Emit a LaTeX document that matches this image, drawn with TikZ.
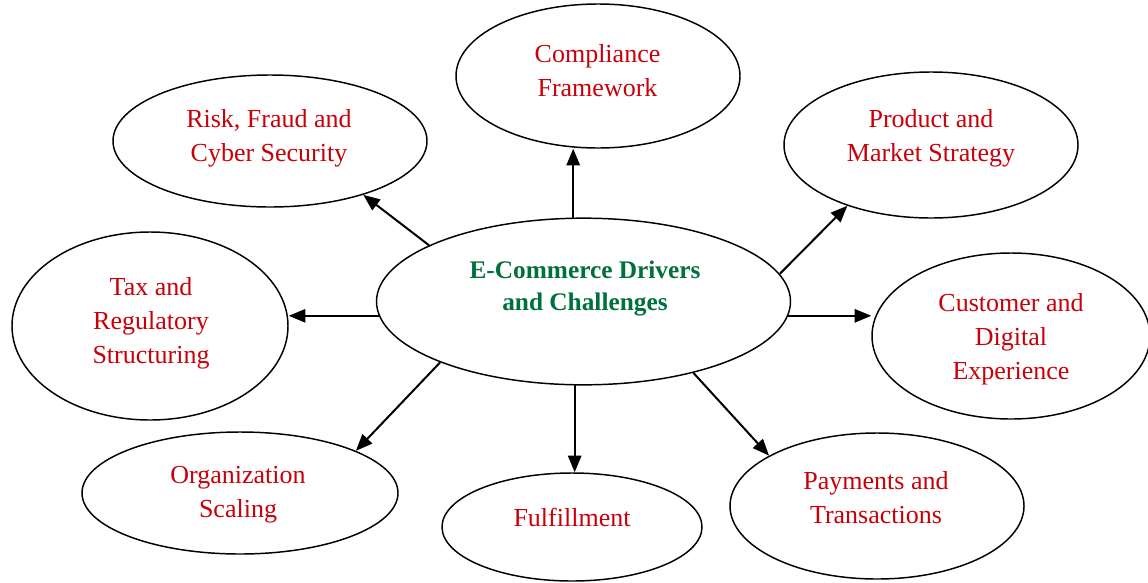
\documentclass[tikz,border=0pt]{standalone}
\usepackage{fontspec}
\setmainfont{Liberation Serif}
\usetikzlibrary{shapes.geometric,arrows.meta}
\definecolor{lblred}{RGB}{200,0,10}
\definecolor{lblgreen}{RGB}{0,112,60}
\begin{document}
\begin{tikzpicture}[x=0.75pt,y=-0.75pt,
  oval/.style={draw=black, line width=1.1pt, ellipse, inner sep=0pt},
  lbl/.style={text=lblred, align=center, font=\fontsize{19.5}{25.5}\selectfont, inner sep=0pt},
  hub/.style={text=lblgreen, align=center, font=\fontsize{19}{24}\selectfont\bfseries, inner sep=0pt},
  arr/.style={line width=1.5pt, -{Triangle[length=12.5pt,width=10pt]}}]
\useasboundingbox[fill=white] (0,0) rectangle (1148,582);

% ellipses
\node[oval, minimum width=310.5pt, minimum height=125pt] (C) at (583.5,301.5) {};
\node[oval, minimum width=213pt, minimum height=108pt] (Comp) at (598,76) {};
\node[oval, minimum width=235.5pt, minimum height=99pt] (Risk) at (270,141) {};
\node[oval, minimum width=220.5pt, minimum height=109.5pt] (Prod) at (931,145) {};
\node[oval, minimum width=207pt, minimum height=141pt] (Tax) at (150,326) {};
\node[oval, minimum width=208.5pt, minimum height=124.5pt] (Cust) at (1011,336) {};
\node[oval, minimum width=237pt, minimum height=91.5pt] (Org) at (240,493) {};
\node[oval, minimum width=195pt, minimum height=81pt] (Ful) at (572,527) {};
\node[oval, minimum width=220.5pt, minimum height=109.5pt] (Pay) at (877,506) {};

% labels
\node[hub] (tC) at (585,289) {E-Commerce Drivers\\and Challenges};
\node[lbl] (tComp) at (597.5,70.5) {Compliance\\Framework};
\node[lbl] (tRisk) at (269,138.5) {Risk, Fraud and\\Cyber Security};
\node[lbl] (tProd) at (931,138.5) {Product and\\Market Strategy};
\node[lbl] (tTax) at (151,323) {Tax and\\Regulatory\\Structuring};
\node[lbl] (tCust) at (1011,339) {Customer and\\Digital\\Experience};
\node[lbl] (tOrg) at (238,494.5) {Organization\\Scaling};
\node[lbl] (tFul) at (572,517) {Fulfillment};
\node[lbl] (tPay) at (876,497.5) {Payments and\\Transactions};

% connectors
\draw[arr] (C.97) -- (C.97 |- Comp.south);
\draw[arr] (C.160) -- (Risk.330);
\draw[arr] (C.184) -- (C.184 -| Tax.east);
\draw[arr] (C.203) -- (Org.20);
\draw[arr] (C.264) -- (C.264 |- Ful.north);
\draw[arr] (C.327) -- (Pay.155);
\draw[arr] (C.356) -- (C.356 -| Cust.west);
\draw[arr] (C.8) -- (Prod.216);
\end{tikzpicture}
\end{document}
